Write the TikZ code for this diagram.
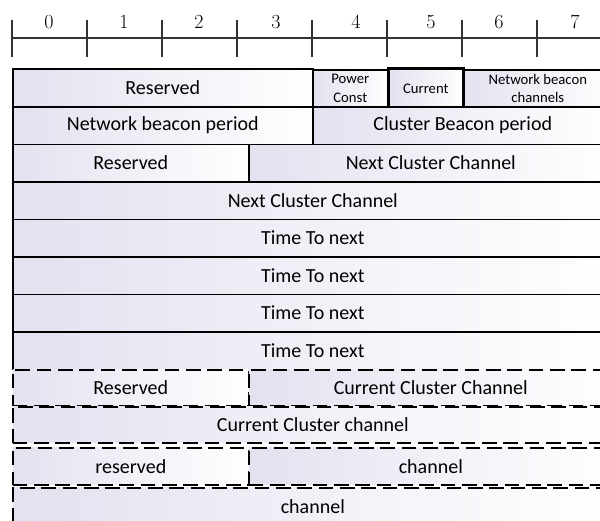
\documentclass[tikz,border=0pt]{standalone}
\usepackage{fontspec}
\newfontfamily\fieldfont{Carlito}
\definecolor{fieldtint}{RGB}{226,226,240}
\tikzset{
  field/.style={draw, line width=1.2pt, left color=fieldtint, right color=white,
    anchor=north west, inner sep=0pt, font=\fieldfont\fontsize{15}{18}\selectfont},
  optfield/.style={field, dash pattern=on 11pt off 5pt},
  smallfield/.style={field, align=center, font=\fieldfont\fontsize{11}{14}\selectfont},
  bitno/.style={font=\fontsize{15}{18}\selectfont},
  ruler/.style={line width=0.8pt, black!80}
}

\begin{document}
\begin{tikzpicture}[x=0.75pt, y=-0.75pt]
\useasboundingbox (0,0) rectangle (600,521);
\clip (0,0) rectangle (600,521);
% bit ruler
\draw[ruler] (12,38) -- (612,38);
\draw[ruler] (12,20) -- (12,57) (87,20) -- (87,57) (162,20) -- (162,57) (237,20) -- (237,57)
	(312,20) -- (312,57) (387,20) -- (387,57) (462,20) -- (462,57) (537,20) -- (537,57);
\node (b0) at (49,22) [bitno] {0};
\node (b1) at (124,22) [bitno] {1};
\node (b2) at (199,22) [bitno] {2};
\node (b3) at (276,22) [bitno] {3};
\node (b4) at (356,22) [bitno] {4};
\node (b5) at (431,22) [bitno] {5};
\node (b6) at (499,22) [bitno] {6};
\node (b7) at (575,22) [bitno] {7};
% fixed part
\node (res1) at (12,68) [field, minimum width=225pt, minimum height=28.5pt] {Reserved};
	\node (pwr) at (312,69) [smallfield, minimum width=56.25pt, minimum height=27.75pt] {Power\\Const};
	\node (nbc) at (462,69) [smallfield, minimum width=112.5pt, minimum height=27.75pt] {Network beacon\\channels};
	\node (cur) at (387,67) [smallfield, line width=2pt, minimum width=56.25pt, minimum height=30pt] {Current};
\node (nbp) at (12,106) [field, minimum width=225pt, minimum height=28.125pt] {Network beacon period};
	\node (cbp) at (312,106) [field, minimum width=225pt, minimum height=28.125pt] {Cluster Beacon period};
\node (res2) at (12,143.5) [field, minimum width=177pt, minimum height=28.125pt] {Reserved};
	\node (ncc1) at (248,143.5) [field, minimum width=273pt, minimum height=28.125pt] {Next Cluster Channel};
\node (ncc2) at (12,181) [field, minimum width=450pt, minimum height=28.125pt] {Next Cluster Channel};
\node (ttn1) at (12,218.5) [field, minimum width=450pt, minimum height=28.125pt] {Time To next};
\node (ttn2) at (12,256) [field, minimum width=450pt, minimum height=28.125pt] {Time To next};
\node (ttn3) at (12,293.5) [field, minimum width=450pt, minimum height=28.125pt] {Time To next};
\node (ttn4) at (12,331) [field, minimum width=450pt, minimum height=28.125pt] {Time To next};
% optional part
\node (res3) at (12,369) [optfield, minimum width=177pt, minimum height=27pt] {Reserved};
	\node (ccc1) at (248,369) [optfield, minimum width=273pt, minimum height=27pt] {Current Cluster Channel};
\node (ccc2) at (12,406) [optfield, minimum width=450pt, minimum height=27pt] {Current Cluster channel};
\node (res4) at (12,447) [optfield, minimum width=177pt, minimum height=27.75pt] {reserved};
	\node (chn1) at (248,447) [optfield, minimum width=273pt, minimum height=27.75pt] {channel};
\node (chn2) at (12,487) [optfield, minimum width=450pt, minimum height=28.5pt] {channel};
\end{tikzpicture}
\end{document}
